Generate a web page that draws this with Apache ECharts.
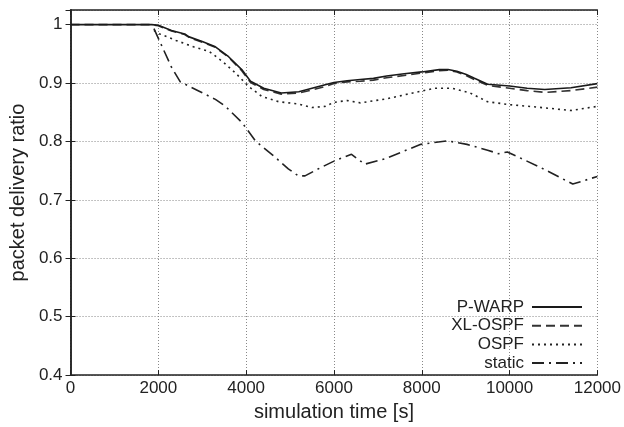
<!DOCTYPE html>
<html>
<head>
<meta charset="utf-8">
<script src="https://cdn.jsdelivr.net/npm/echarts@6/dist/echarts.min.js"></script>
<style>html,body{margin:0;padding:0;background:#fff}#c{width:624px;height:427px}</style>
</head>
<body>
<div id="c"></div>
<script>
const xTicks = [0, 2000, 4000, 6000, 8000, 10000, 12000];
const yTicks = [0.4, 0.5, 0.6, 0.7, 0.8, 0.9, 1];

const pwarpT = [0,1850,2000,2300,2600,2700,3000,3300,3600,3900,4100,4400,4800,5200,5500,5800,6000,6300,6600,6900,7200,7600,8000,8400,8600,8800,9000,9200,9500,10000,10400,10800,11400,12000];
const pwarpV = [1,1,0.999,0.990,0.984,0.979,0.971,0.962,0.945,0.923,0.903,0.891,0.883,0.885,0.891,0.897,0.901,0.904,0.906,0.908,0.912,0.916,0.919,0.923,0.923,0.920,0.915,0.908,0.898,0.895,0.891,0.889,0.892,0.899];

const xlospfT = [0,1850,2000,2300,2600,2700,3000,3300,3600,3900,4100,4400,4800,5200,5500,5800,6000,6300,6600,6900,7200,7600,8000,8400,8600,8800,9000,9200,9500,10000,10400,10800,11400,12000];
const xlospfV = [1,1,0.998,0.989,0.983,0.978,0.970,0.961,0.944,0.921,0.901,0.889,0.881,0.883,0.888,0.894,0.899,0.902,0.903,0.905,0.909,0.913,0.917,0.921,0.922,0.919,0.913,0.906,0.896,0.891,0.887,0.884,0.887,0.893];

const ospfT = [1900,2000,2400,2800,3160,3460,3760,4060,4360,4740,5200,5500,5800,6000,6300,6600,7200,7800,8300,8700,9100,9500,10000,10600,11400,12000];
const ospfV = [0.990,0.985,0.973,0.962,0.954,0.937,0.917,0.894,0.877,0.868,0.864,0.858,0.860,0.867,0.870,0.866,0.873,0.883,0.891,0.891,0.883,0.868,0.863,0.859,0.853,0.860];

const staticT = [1900,2100,2300,2500,2930,3300,3530,3910,4210,4660,4960,5190,5340,5720,6020,6400,6700,7150,7980,8580,9030,9500,9750,9950,10690,11440,12000];
const staticV = [0.993,0.960,0.927,0.902,0.886,0.872,0.860,0.832,0.801,0.773,0.753,0.741,0.741,0.756,0.767,0.778,0.761,0.770,0.795,0.801,0.795,0.785,0.779,0.782,0.756,0.727,0.740];

const names = ['P-WARP', 'XL-OSPF', 'OSPF', 'static'];

function pairs(t, v) { return t.map((x, i) => [x, v[i]]); }

const ink = '#222';
const fontFam = '"Liberation Sans", Arial, Helvetica, sans-serif';

const chart = echarts.init(document.getElementById('c'), null, {renderer: 'canvas'});
const baseAxis = {
  type: 'value',
  axisLine: {show: true, lineStyle: {color: ink, width: 1.5}},
  axisTick: {show: true, inside: true, length: 5, lineStyle: {color: ink, width: 1}},
};
chart.setOption({
  animation: false,
  backgroundColor: '#fff',
  textStyle: {fontFamily: fontFam},
  grid: {left: 67, right: 26, top: 10, bottom: 49, containLabel: false},
  xAxis: [
    Object.assign({}, baseAxis, {
      min: xTicks[0], max: xTicks[xTicks.length - 1], interval: 2000,
      position: 'bottom',
      name: 'simulation time [s]', nameLocation: 'middle', nameGap: 24,
      nameTextStyle: {fontSize: 20, color: ink, fontFamily: fontFam},
      axisLabel: {fontSize: 17, color: ink, margin: 5, fontFamily: fontFam, formatter: v => String(v)},
      splitLine: {show: true, lineStyle: {color: '#888', type: [1, 2], width: 1}}
    }),
    Object.assign({}, baseAxis, {
      min: xTicks[0], max: xTicks[xTicks.length - 1], interval: 2000,
      position: 'top', axisLabel: {show: false}, splitLine: {show: false}
    })
  ],
  yAxis: [
    Object.assign({}, baseAxis, {
      min: yTicks[0], max: 1.025, interval: 0.1,
      position: 'left',
      name: 'packet delivery ratio', nameLocation: 'middle', nameGap: 37,
      nameTextStyle: {fontSize: 20, color: ink, fontFamily: fontFam},
      axisLabel: {fontSize: 17, color: ink, margin: 8, showMaxLabel: false, fontFamily: fontFam,
        formatter: v => (Math.abs(v - 1) < 1e-9 ? '1' : (+v.toFixed(2)).toString())},
      splitLine: {show: true, lineStyle: {color: '#888', type: [1, 2], width: 1}}
    }),
    Object.assign({}, baseAxis, {
      min: yTicks[0], max: 1.025, interval: 0.1,
      position: 'right', axisLabel: {show: false}, splitLine: {show: false}
    })
  ],
  legend: {
    orient: 'vertical',
    right: 41, top: 298,
    align: 'right',
    padding: 0,
    itemWidth: 50, itemHeight: 10, itemGap: 0.7,
    itemStyle: {opacity: 0},
    textStyle: {fontSize: 17, lineHeight: 18, height: 18, color: ink, fontFamily: fontFam, padding: [0, 3, 0, 0]},
    data: names
  },
  series: [
    {name: names[0], type: 'line', symbol: 'none', showSymbol: false, data: pairs(pwarpT, pwarpV),
      lineStyle: {color: '#1a1a1a', width: 1.6, type: 'solid'}, itemStyle: {color: '#1a1a1a'}, z: 4},
    {name: names[1], type: 'line', symbol: 'none', showSymbol: false, data: pairs(xlospfT, xlospfV),
      lineStyle: {color: '#333', width: 1.6, type: [9, 5]}, itemStyle: {color: '#333'}, z: 3},
    {name: names[2], type: 'line', symbol: 'none', showSymbol: false, data: pairs(ospfT, ospfV),
      lineStyle: {color: '#222', width: 1.6, type: [2, 4]}, itemStyle: {color: '#222'}, z: 2},
    {name: names[3], type: 'line', symbol: 'none', showSymbol: false, data: pairs(staticT, staticV),
      lineStyle: {color: '#222', width: 1.6, type: [12, 5, 2, 5]}, itemStyle: {color: '#222'}, z: 2}
  ]
});
</script>
</body>
</html>
